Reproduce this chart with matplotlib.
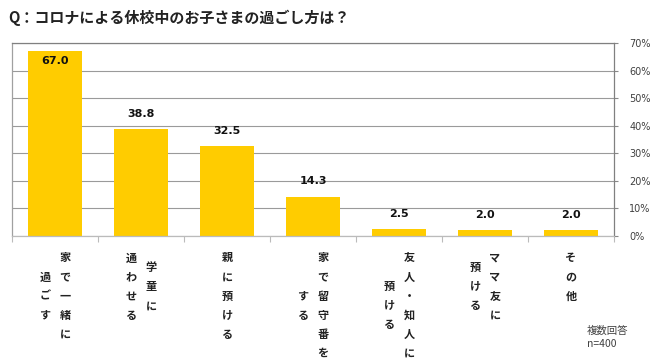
import numpy as np
import matplotlib.pyplot as plt

plt.rcParams['font.family'] = ['Noto Sans CJK JP', 'DejaVu Sans']

title = "Q：コロナによる休校中のお子さまの過ごし方は？"
# each label is a list of vertical columns, right to left
labels = [
    ["家で一緒に", "過ごす"],
    ["学童に", "通わせる"],
    ["親に預ける"],
    ["家で留守番を", "する"],
    ["友人・知人に", "預ける"],
    ["ママ友に", "預ける"],
    ["その他"],
]
values = [67.0, 38.8, 32.5, 14.3, 2.5, 2.0, 2.0]
yticks = [0, 10, 20, 30, 40, 50, 60, 70]
note = "複数回答\nn=400"

bar_color = "#FFCC00"

fig = plt.figure(figsize=(6.5, 3.59), dpi=100)
ax = fig.add_axes([0.0185, 0.3426, 0.9262, 0.5376])

x = np.arange(len(values))
ax.bar(x, values, width=0.63, color=bar_color, zorder=2)
ax.set_xlim(-0.5, len(values) - 0.5)
ax.set_ylim(0, 70)

ax.yaxis.tick_right()
ax.set_yticks(yticks)
ax.set_yticklabels([f"{v}%" for v in yticks], fontsize=7, color="#404040",
                   family=['DejaVu Sans'])
ax.tick_params(axis='y', length=3, color="#888888", pad=8)
ax.grid(axis='y', color="#9a9a9a", linewidth=0.8, zorder=0)

ax.set_xticks(np.arange(-0.5, len(values), 1))
ax.set_xticklabels([])
ax.tick_params(axis='x', length=4, color="#bbbbbb", direction='out')

for side in ['top', 'right']:
    ax.spines[side].set_color("#808080")
ax.spines['left'].set_color("#a0a0a0")
ax.spines['bottom'].set_color("#bbbbbb")
for s in ax.spines.values():
    s.set_linewidth(0.9)

# value labels
for xi, v in zip(x, values):
    if v + 6 > 70:
        off = -7
    else:
        off = 11
    ax.annotate(f"{v:.1f}", xy=(xi, v), xytext=(0, off), textcoords='offset points',
                ha='center', va='center', fontsize=8, fontweight='bold',
                family=['DejaVu Sans'], color="#111111", zorder=3)

# vertical category labels
col_step = 14.4
char_step = 13.7
top_off = 15.8
for xi, cols in zip(x, labels):
    n = len(cols)
    L = max(len(c) for c in cols)
    for k, col in enumerate(cols):
        dx = ((n - 1) / 2 - k) * col_step
        start = (L - len(col)) / 2
        for j, ch in enumerate(col):
            dy = -(top_off + (start + j) * char_step)
            ax.annotate(ch, xy=(xi, 0), xycoords=('data', 'axes fraction'),
                        xytext=(dx, dy), textcoords='offset points',
                        ha='center', va='center', fontsize=8, fontweight='bold',
                        color="#222222", annotation_clip=False)

fig.text(0.012, 0.95, title, fontsize=10.8, fontweight='bold', color="#222222",
         ha='left', va='center')
fig.text(0.903, 0.06, note, fontsize=7.5, color="#404040", ha='left', va='center',
         linespacing=1.4)

fig.savefig("out.png", dpi=100)
